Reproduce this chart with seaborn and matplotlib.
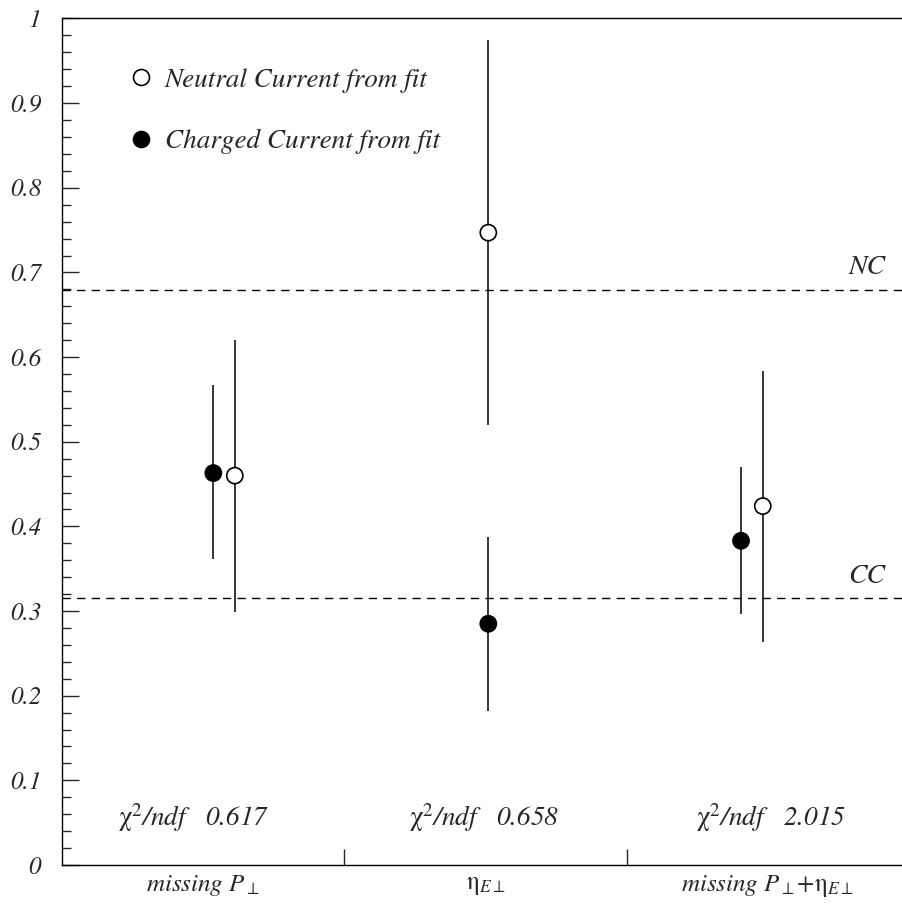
import numpy as np
import pandas as pd
import matplotlib
matplotlib.use("Agg")
import matplotlib.pyplot as plt
from matplotlib.lines import Line2D
from matplotlib.ticker import MultipleLocator
import seaborn as sns

# fit results per variable set
categories = [r"$\mathit{missing\ P}_{\perp}$",
              r"η$_{E\perp}$",
              r"$\mathit{missing\ P}_{\perp}$+η$_{E\perp}$"]
nc_val = [0.460, 0.747, 0.424]
nc_lo = [0.299, 0.520, 0.264]
nc_hi = [0.620, 0.975, 0.583]
cc_val = [0.463, 0.285, 0.383]
cc_lo = [0.361, 0.182, 0.297]
cc_hi = [0.567, 0.388, 0.470]
chi2_ndf = ["0.617", "0.658", "2.015"]
nc_expected = 0.679
cc_expected = 0.315

# small horizontal shifts so the two points don't overlap
nc_shift = [0.112, 0.010, -0.018]
cc_shift = [0.036, 0.010, -0.095]

idx = np.arange(len(categories))
df = pd.concat([
    pd.DataFrame({"x": idx + np.array(nc_shift), "val": nc_val, "lo": nc_lo,
                  "hi": nc_hi, "kind": "NC"}),
    pd.DataFrame({"x": idx + np.array(cc_shift), "val": cc_val, "lo": cc_lo,
                  "hi": cc_hi, "kind": "CC"}),
], ignore_index=True)

sns.set_style("ticks")
plt.rcParams["font.family"] = ["STIXGeneral", "DejaVu Sans"]
plt.rcParams["mathtext.fontset"] = "stix"

fig = plt.figure(figsize=(9.02, 9.10), dpi=100)
ax = fig.add_axes([62 / 902, 45 / 910, 847 / 902, 846.5 / 910])

# error bars first, markers on top
ax.errorbar(df["x"], df["val"],
            yerr=[df["val"] - df["lo"], df["hi"] - df["val"]],
            fmt="none", ecolor="black", elinewidth=1.1, capsize=0, zorder=2)
sns.scatterplot(data=df, x="x", y="val", hue="kind",
                palette={"NC": "white", "CC": "black"},
                edgecolor="black", linewidth=1.2, s=135, legend=False,
                zorder=3, ax=ax)

# expectations
ax.axhline(nc_expected, color="black", lw=1.0, dashes=(6, 4.5), zorder=1)
ax.axhline(cc_expected, color="black", lw=1.0, dashes=(6, 4.5), zorder=1)
ax.text(2.35, nc_expected + 0.027, "NC", fontsize=20, style="italic",
        ha="center", va="center")
ax.text(2.35, cc_expected + 0.026, "CC", fontsize=20, style="italic",
        ha="center", va="center")

# chi2 values
chi_x = [-0.3, 0.73, 1.745]
for cx, c in zip(chi_x, chi2_ndf):
    ax.text(cx, 0.056, r"$\mathrm{\chi}^{2}$/ndf   " + c,
            fontsize=19.5, style="italic", ha="left", va="center")

ax.set_xlim(-0.5, 2.5)
ax.set_ylim(0, 1)
ax.set_xlabel("")
ax.set_ylabel("")

ax.yaxis.set_major_locator(MultipleLocator(0.1))
ax.yaxis.set_minor_locator(MultipleLocator(0.02))
yt = np.round(np.arange(0, 1.01, 0.1), 1)
ax.set_yticks(yt, [f"{v:g}" for v in yt], fontstyle="italic", fontsize=18)
ax.tick_params(axis="y", which="major", direction="in", length=12, width=1.0,
               pad=15)
ax.tick_params(axis="y", which="minor", direction="in", length=6.5, width=1.0)

ax.set_xticks([0.5, 1.5], ["", ""])
ax.set_xticks(idx, categories, minor=True, fontsize=18)
ax.tick_params(axis="x", which="major", direction="in", length=11.5, width=1.0)
ax.tick_params(axis="x", which="minor", length=0, pad=6)

for side in ["left", "bottom", "top"]:
    ax.spines[side].set_linewidth(1.0)
    ax.spines[side].set_color("black")
ax.spines["right"].set_visible(False)

handles = [
    Line2D([], [], marker="o", ls="none", mfc="white", mec="black",
           ms=11.5, mew=1.2),
    Line2D([], [], marker="o", ls="none", mfc="black", mec="black",
           ms=11.5, mew=1.2),
]
ax.legend(handles, ["Neutral Current from fit", "Charged Current from fit"],
          loc="upper left", bbox_to_anchor=(0.0773, 0.942), frameon=False,
          prop={"style": "italic", "size": 19.5}, handlelength=1.0,
          handletextpad=0.37, borderpad=0, borderaxespad=0, labelspacing=1.35)

fig.savefig("out.png", dpi=100)
